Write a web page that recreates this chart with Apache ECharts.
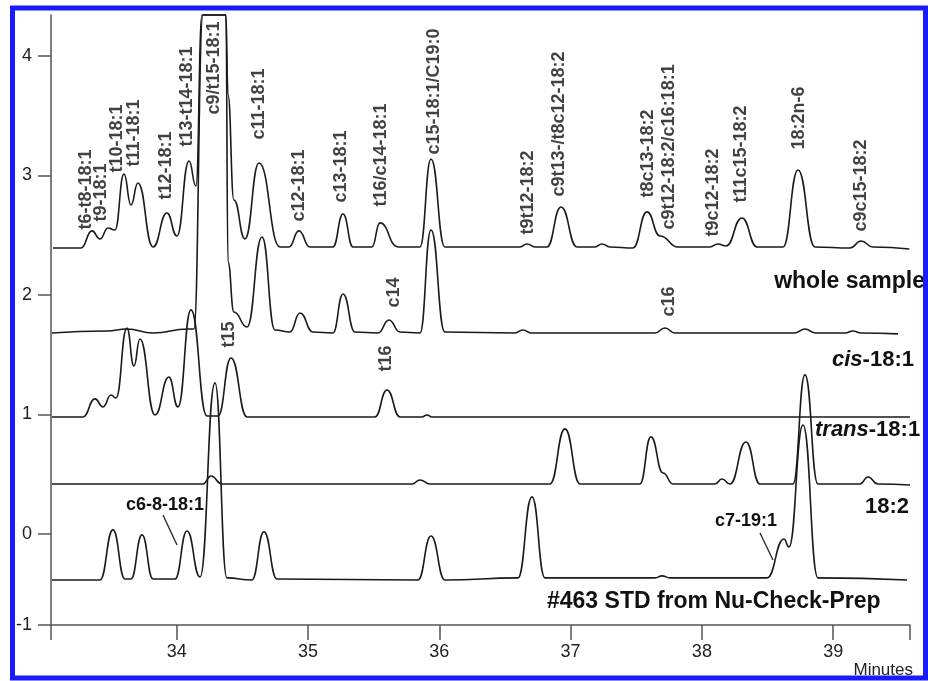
<!DOCTYPE html>
<html><head><meta charset="utf-8">
<script src="https://cdn.jsdelivr.net/npm/echarts@6/dist/echarts.min.js"></script>
<style>html,body{margin:0;padding:0;background:#fff}#c{width:928px;height:681px}</style>
</head><body><div id="c"></div>
<script>
// ---- axis ticks ----
const xTickValues = [34, 35, 36, 37, 38, 39];
const xMin = 33.043, xMax = 39.585;
const yTickValues = [-0.762, 0, 1, 2, 3, 4];
const yTickLabels = ['-1', '0', '1', '2', '3', '4'];
const yMin = -0.762, yMax = 4.343;

// ---- traces [minutes, signal] ----
const wholeSample = [[33.058,2.393],[33.271,2.393],[33.355,2.536],[33.416,2.469],[33.477,2.561],[33.530,2.544],[33.599,3.012],[33.652,2.753],[33.705,2.937],[33.820,2.402],[33.926,2.686],[34.002,2.494],[34.094,3.121],[34.147,2.912],[34.193,4.343],[34.375,4.343],[34.391,3.674],[34.436,2.795],[34.520,2.469],[34.627,3.105],[34.787,2.402],[34.855,2.402],[34.931,2.536],[35.015,2.402],[35.190,2.402],[35.267,2.678],[35.343,2.402],[35.487,2.402],[35.548,2.603],[35.685,2.402],[35.853,2.402],[35.937,3.138],[36.043,2.402],[36.615,2.402],[36.668,2.427],[36.729,2.402],[36.820,2.402],[36.927,2.736],[37.049,2.402],[37.186,2.402],[37.239,2.427],[37.300,2.402],[37.475,2.393],[37.582,2.695],[37.681,2.494],[37.818,2.402],[38.061,2.402],[38.122,2.427],[38.184,2.410],[38.305,2.644],[38.420,2.402],[38.618,2.402],[38.732,3.046],[38.861,2.402],[39.128,2.393],[39.212,2.452],[39.303,2.402],[39.580,2.385]];
const cis181 = [[33.050,1.682],[33.469,1.699],[33.621,1.715],[33.820,1.682],[34.086,1.715],[34.132,1.715],[34.200,4.343],[34.375,4.343],[34.391,2.276],[34.436,1.858],[34.536,1.732],[34.650,2.485],[34.749,1.707],[34.863,1.690],[34.939,1.849],[35.038,1.690],[35.190,1.682],[35.267,2.008],[35.358,1.690],[35.533,1.682],[35.617,1.791],[35.701,1.690],[35.853,1.682],[35.937,2.544],[36.043,1.690],[36.577,1.682],[36.637,1.707],[36.698,1.682],[37.643,1.682],[37.719,1.724],[37.795,1.682],[38.709,1.682],[38.785,1.715],[38.862,1.682],[39.090,1.682],[39.151,1.699],[39.212,1.682],[39.494,1.674]];
const trans181 = [[33.050,0.979],[33.286,0.979],[33.378,1.130],[33.439,1.063],[33.500,1.163],[33.538,1.138],[33.621,1.724],[33.675,1.406],[33.720,1.632],[33.835,0.996],[33.941,1.314],[34.010,1.063],[34.109,1.875],[34.231,0.987],[34.315,0.987],[34.414,1.473],[34.536,0.979],[35.510,0.979],[35.602,1.205],[35.701,0.979],[35.868,0.979],[35.906,0.996],[35.944,0.979],[39.585,0.979]];
const dienes182 = [[33.050,0.418],[34.200,0.418],[34.261,0.485],[34.345,0.418],[35.792,0.418],[35.853,0.452],[35.929,0.418],[36.843,0.418],[36.957,0.879],[37.072,0.418],[37.528,0.418],[37.612,0.812],[37.704,0.510],[37.780,0.418],[38.100,0.418],[38.153,0.460],[38.214,0.418],[38.336,0.770],[38.442,0.418],[38.694,0.418],[38.785,1.331],[38.884,0.418],[39.204,0.418],[39.265,0.477],[39.341,0.418],[39.585,0.410]];
const std463 = [[33.050,-0.385],[33.416,-0.385],[33.515,0.034],[33.606,-0.377],[33.652,-0.377],[33.736,-0.008],[33.820,-0.377],[33.987,-0.377],[34.079,0.025],[34.178,-0.360],[34.292,1.264],[34.383,-0.368],[34.573,-0.385],[34.665,0.017],[34.764,-0.377],[35.838,-0.385],[35.937,-0.017],[36.043,-0.385],[36.599,-0.368],[36.706,0.310],[36.805,-0.368],[37.643,-0.368],[37.696,-0.351],[37.757,-0.368],[38.496,-0.368],[38.625,-0.042],[38.663,-0.109],[38.770,0.912],[38.884,-0.368],[39.562,-0.385]];

// ---- peak labels [minutes, signal at label foot, text] ----
const peakLabels = [
 [33.317,2.544,'t6-t8-18:1'],[33.431,2.611,'t9-18:1'],[33.553,3.021,'t10-18:1'],[33.682,3.071,'t11-18:1'],
 [33.926,2.795,'t12-18:1'],[34.079,3.238,'t13-t14-18:1'],[34.292,3.506,'c9/t15-18:1'],[34.634,3.297,'c11-18:1'],
 [34.939,2.611,'c12-18:1'],[35.259,2.770,'c13-18:1'],[35.563,2.736,'t16/c14-18:1'],[35.967,3.171,'c15-18:1/C19:0'],
 [36.683,2.502,'t9t12-18:2'],[36.919,2.820,'c9t13-/t8c12-18:2'],[37.590,2.812,'t8c13-18:2'],[37.750,2.544,'c9t12-18:2/c16:18:1'],
 [38.085,2.485,'t9c12-18:2'],[38.305,2.770,'t11c15-18:2'],[38.747,3.213,'18:2n-6'],[39.219,2.527,'c9c15-18:2'],
 [35.663,1.891,'c14'],[37.757,1.816,'c16'],[34.406,1.556,'t15'],[35.602,1.356,'t16']
];

const FONT = "'Liberation Sans', Arial, Helvetica, sans-serif";
const traceStyle = {color:'#1a1a1a', width:1.6};
function trace(name, data){
  return {name, type:'line', data, smooth:0.5, smoothMonotone:'x', showSymbol:false, symbol:'none',
    lineStyle:traceStyle, clip:false, silent:true, z:3};
}
function nearestLabel(v){
  for (let i=0;i<yTickValues.length;i++) if (Math.abs(v-yTickValues[i])<1e-6) return yTickLabels[i];
  return '';
}
const chart = echarts.init(document.getElementById('c'), null, {renderer:'canvas'});
chart.setOption({
  animation:false,
  backgroundColor:'#fff',
  grid:{left:51, right:18, top:15, bottom:56, containLabel:false},
  xAxis:{type:'value', min:xMin, max:xMax,
    axisLine:{onZero:false, lineStyle:{color:'#555', width:1.5}},
    axisTick:{show:true, length:15, customValues:[xMin].concat(xTickValues,[xMax]), lineStyle:{color:'#555', width:1.5}},
    axisLabel:{customValues:xTickValues, margin:18, fontSize:18, color:'#222', fontFamily:FONT},
    splitLine:{show:false}},
  yAxis:{type:'value', min:yMin, max:yMax,
    axisLine:{show:true, onZero:false, lineStyle:{color:'#555', width:1.5}},
    axisTick:{show:true, length:13, customValues:yTickValues, lineStyle:{color:'#555', width:1.5}},
    axisLabel:{customValues:yTickValues, margin:19, fontSize:18, color:'#222', fontFamily:FONT, formatter:nearestLabel},
    splitLine:{show:false}},
  series:[
    trace('whole sample', wholeSample),
    trace('cis-18:1', cis181),
    trace('trans-18:1', trans181),
    trace('18:2', dienes182),
    trace('#463 STD', std463),
    {type:'scatter', symbolSize:1, itemStyle:{color:'rgba(0,0,0,0)'}, silent:true, z:5,
     data:peakLabels.map(d=>({value:[d[0],d[1]], name:d[2]})),
     label:{show:true, formatter:'{b}', position:[0,0], rotate:90, align:'left', verticalAlign:'middle',
       fontSize:18, fontWeight:'bold', color:'#111', fontFamily:FONT}}
  ],
  graphic:[
    {type:'rect', shape:{x:12.5, y:8, width:913, height:670}, style:{fill:'none', stroke:'#1a1aff', lineWidth:5}, z:100},
    {type:'text', x:925, y:282, style:{text:'whole sample', fontSize:23, fontWeight:'bold', fontFamily:FONT, fill:'#111', align:'right', verticalAlign:'middle'}, z:50},
    {type:'text', x:832, y:360, style:{text:'{it|cis}-18:1', fontSize:22, fontWeight:'bold', fontFamily:FONT, fill:'#111', align:'left', verticalAlign:'middle',
       rich:{it:{fontStyle:'italic', fontWeight:'bold', fontSize:22, fontFamily:FONT, fill:'#111'}}}, z:50},
    {type:'text', x:815, y:430, style:{text:'{it|trans}-18:1', fontSize:22, fontWeight:'bold', fontFamily:FONT, fill:'#111', align:'left', verticalAlign:'middle',
       rich:{it:{fontStyle:'italic', fontWeight:'bold', fontSize:22, fontFamily:FONT, fill:'#111'}}}, z:50},
    {type:'text', x:865, y:507, style:{text:'18:2', fontSize:22, fontWeight:'bold', fontFamily:FONT, fill:'#111', align:'left', verticalAlign:'middle'}, z:50},
    {type:'text', x:547, y:602, style:{text:'#463 STD from Nu-Check-Prep', fontSize:23, fontWeight:'bold', fontFamily:FONT, fill:'#111', align:'left', verticalAlign:'middle'}, z:50},
    {type:'text', x:126, y:505, style:{text:'c6-8-18:1', fontSize:18, fontWeight:'bold', fontFamily:FONT, fill:'#111', align:'left', verticalAlign:'middle'}, z:50},
    {type:'line', shape:{x1:163, y1:515, x2:177, y2:545}, style:{stroke:'#222', lineWidth:1.3}, z:50},
    {type:'text', x:715, y:521, style:{text:'c7-19:1', fontSize:18, fontWeight:'bold', fontFamily:FONT, fill:'#111', align:'left', verticalAlign:'middle'}, z:50},
    {type:'line', shape:{x1:760, y1:533, x2:773, y2:560}, style:{stroke:'#222', lineWidth:1.3}, z:50},
    {type:'text', x:913, y:670, style:{text:'Minutes', fontSize:17, fontFamily:FONT, fill:'#222', align:'right', verticalAlign:'middle'}, z:50}
  ]
});
</script>
</body></html>
